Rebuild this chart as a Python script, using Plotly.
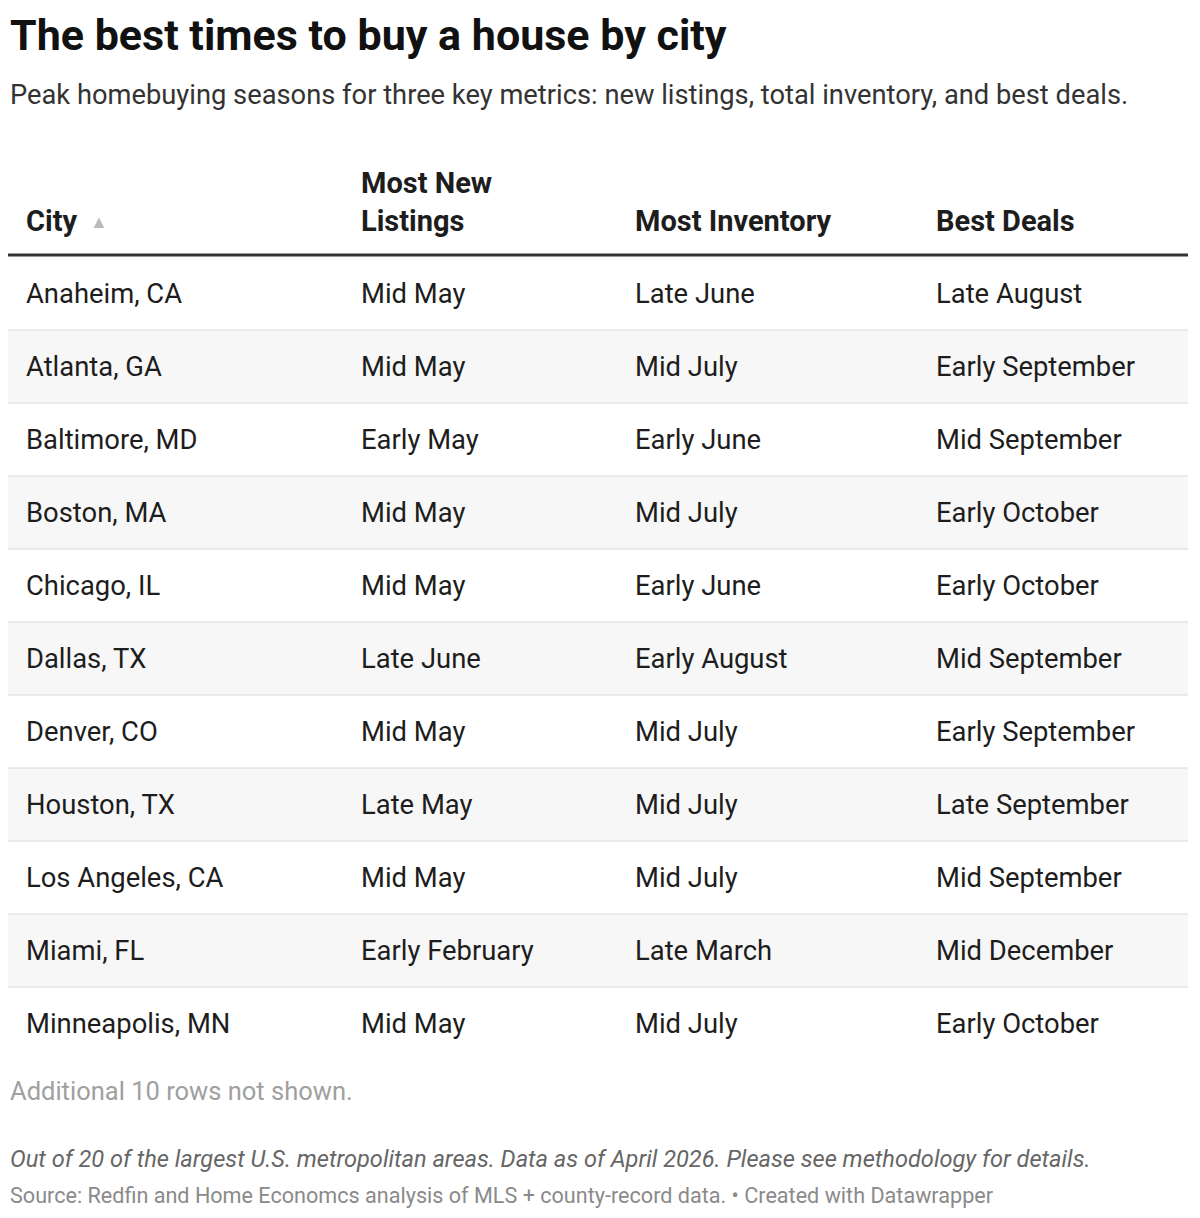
import plotly.graph_objects as go

cities = ["Anaheim, CA","Atlanta, GA","Baltimore, MD","Boston, MA","Chicago, IL","Dallas, TX",
          "Denver, CO","Houston, TX","Los Angeles, CA","Miami, FL","Minneapolis, MN"]
new_listings = ["Mid May","Mid May","Early May","Mid May","Mid May","Late June","Mid May",
                "Late May","Mid May","Early February","Mid May"]
inventory = ["Late June","Mid July","Early June","Mid July","Early June","Early August","Mid July",
             "Mid July","Mid July","Late March","Mid July"]
best_deals = ["Late August","Early September","Mid September","Early October","Early October",
              "Mid September","Early September","Late September","Mid September","Mid December",
              "Early October"]
headers = ["City", "Most New<br>Listings", "Most Inventory", "Best Deals"]

W, H = 1200, 1218
FONT = "Roboto"
col_x = [26, 361, 635, 936]
row_top, row_h = 257, 73

fig = go.Figure()
shapes, ann = [], []

def txt(x, y, t, size, color="#1d1d1d", anchor="left", yanchor="middle"):
    ann.append(dict(x=x, y=y, text=t, showarrow=False, xanchor=anchor, yanchor=yanchor, align="left",
                    font=dict(family=FONT, size=size, color=color), xref="x", yref="y"))

txt(10, 35, "<b>The best times to buy a house by city</b>", 43, "#111")
txt(10, 95, "Peak homebuying seasons for three key metrics: new listings, total inventory, and best deals.", 27.3, "#333")

for i, h in enumerate(headers):
    txt(col_x[i], 240, "<b>" + h + "</b>", 29, "#1d1d1d", yanchor="bottom")
txt(90, 221, "▲", 18, "#bbbbbb")

shapes.append(dict(type="line", x0=10, x1=1190, y0=255, y1=255, line=dict(color="#333", width=3)))

for r, row in enumerate(zip(cities, new_listings, inventory, best_deals)):
    y0 = row_top + r * row_h
    if r % 2 == 1:
        shapes.append(dict(type="rect", x0=10, x1=1190, y0=y0, y1=y0 + row_h,
                           fillcolor="#f7f7f7", line=dict(width=0), layer="below"))
    if r < len(cities) - 1:
        shapes.append(dict(type="line", x0=10, x1=1190, y0=y0 + row_h, y1=y0 + row_h,
                           line=dict(color="#e4e4e4", width=1.5)))
    for c, v in enumerate(row):
        txt(col_x[c], y0 + row_h / 2, v, 27.4)

txt(10, 1091, "Additional 10 rows not shown.", 25.5, "#a0a0a0")
txt(10, 1159, "<i>Out of 20 of the largest U.S. metropolitan areas. Data as of April 2026. Please see methodology for details.</i>", 23.6, "#666")
txt(10, 1195, "Source: Redfin and Home Economcs analysis of MLS + county-record data. • Created with Datawrapper", 21.6, "#8a8a8a")

fig.update_layout(width=W, height=H, margin=dict(l=0, r=0, t=0, b=0),
                  paper_bgcolor="white", plot_bgcolor="white",
                  xaxis=dict(range=[10, W + 10], visible=False, fixedrange=True),
                  yaxis=dict(range=[H + 8, 8], visible=False, fixedrange=True),
                  shapes=shapes, annotations=ann, showlegend=False)
fig.write_html("out.html")
